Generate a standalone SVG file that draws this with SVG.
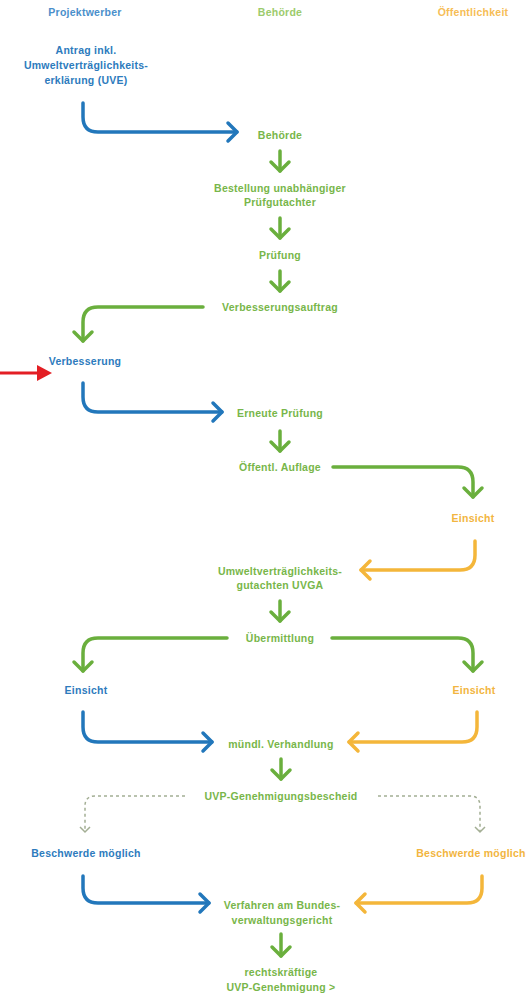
<svg xmlns="http://www.w3.org/2000/svg" width="529" height="993" viewBox="0 0 529 993">
<style>
text{font-family:"Liberation Sans",Arial,sans-serif;font-size:10.5px;font-weight:bold;letter-spacing:0.25px;text-anchor:middle}
.b{fill:#2d7bbd}.g{fill:#78b64a}.o{fill:#f2b540}
.hb{fill:#4a8fcb}.hg{fill:#9ccb6c}.ho{fill:#f6bd55}
.cb,.cg,.co{fill:none;stroke-width:3.5;stroke-linecap:round;stroke-linejoin:round}
.cb{stroke:#2277bb;marker-end:url(#mb)}
.cg{stroke:#6aaf3d;marker-end:url(#mg)}
.co{stroke:#f4b63a;marker-end:url(#mo)}
.cd{fill:none;stroke:#a3ae94;stroke-width:1.5;stroke-dasharray:3 3;marker-end:url(#md)}
</style>
<defs>
<marker id="mb" markerUnits="userSpaceOnUse" markerWidth="24" markerHeight="24" refX="11" refY="11" orient="auto" overflow="visible"><path d="M2,2 L11,11 L2,20" fill="none" stroke="#2277bb" stroke-width="3.5" stroke-linecap="round" stroke-linejoin="round"/></marker>
<marker id="mg" markerUnits="userSpaceOnUse" markerWidth="24" markerHeight="24" refX="11" refY="11" orient="auto" overflow="visible"><path d="M2,2 L11,11 L2,20" fill="none" stroke="#6aaf3d" stroke-width="3.5" stroke-linecap="round" stroke-linejoin="round"/></marker>
<marker id="mo" markerUnits="userSpaceOnUse" markerWidth="24" markerHeight="24" refX="11" refY="11" orient="auto" overflow="visible"><path d="M2,2 L11,11 L2,20" fill="none" stroke="#f4b63a" stroke-width="3.5" stroke-linecap="round" stroke-linejoin="round"/></marker>
<marker id="md" markerUnits="userSpaceOnUse" markerWidth="12" markerHeight="12" refX="6" refY="6" orient="auto" overflow="visible"><path d="M1,1 L6,6 L1,11" fill="none" stroke="#a3ae94" stroke-width="1.5"/></marker>
</defs>

<g id="headers">
<text class="hb" x="85" y="16">Projektwerber</text>
<text class="hg" x="280" y="16">Behörde</text>
<text class="ho" x="473" y="16">Öffentlichkeit</text>
</g>

<g id="n-antrag"><text class="b" x="86" y="54">Antrag inkl.</text><text class="b" x="86" y="69">Umweltverträglichkeits-</text><text class="b" x="86" y="84">erklärung (UVE)</text></g>
<g id="n-behoerde"><text class="g" x="280" y="139">Behörde</text></g>
<g id="n-bestellung"><text class="g" x="280" y="192">Bestellung unabhängiger</text><text class="g" x="280" y="206">Prüfgutachter</text></g>
<g id="n-pruefung"><text class="g" x="280" y="259">Prüfung</text></g>
<g id="n-verbauftrag"><text class="g" x="280" y="311">Verbesserungsauftrag</text></g>
<g id="n-verbesserung"><text class="b" x="85" y="365">Verbesserung</text></g>
<g id="n-erneut"><text class="g" x="280" y="417">Erneute Prüfung</text></g>
<g id="n-auflage"><text class="g" x="280" y="471">Öffentl. Auflage</text></g>
<g id="n-einsicht1"><text class="o" x="473" y="522">Einsicht</text></g>
<g id="n-uvga"><text class="g" x="280" y="575">Umweltverträglichkeits-</text><text class="g" x="280" y="589">gutachten UVGA</text></g>
<g id="n-uebermittlung"><text class="g" x="280" y="642">Übermittlung</text></g>
<g id="n-einsicht-pw"><text class="b" x="86" y="694">Einsicht</text></g>
<g id="n-einsicht-oe"><text class="o" x="474" y="694">Einsicht</text></g>
<g id="n-verhandlung"><text class="g" x="281" y="748">mündl. Verhandlung</text></g>
<g id="n-bescheid"><text class="g" x="281" y="800">UVP-Genehmigungsbescheid</text></g>
<g id="n-beschwerde-pw"><text class="b" x="86" y="857">Beschwerde möglich</text></g>
<g id="n-beschwerde-oe"><text class="o" x="471" y="857">Beschwerde möglich</text></g>
<g id="n-bvwg"><text class="g" x="282" y="909">Verfahren am Bundes-</text><text class="g" x="282" y="924">verwaltungsgericht</text></g>
<g id="n-final"><text class="g" x="281" y="976">rechtskräftige</text><text class="g" x="281" y="991">UVP-Genehmigung &gt;</text></g>

<g id="connectors">
<path class="cb" d="M83,103 V117 Q83,132 98,132 H237"/>
<path class="cg" d="M280,151 V171"/>
<path class="cg" d="M280,218 V238"/>
<path class="cg" d="M280,271 V291"/>
<path class="cg" d="M203,307 H98 Q83,307 83,322 V341"/>
<path class="cb" d="M83,383 V397 Q83,412 98,412 H222"/>
<path class="cg" d="M280,431 V451"/>
<path class="cg" d="M333,467 H458 Q473,467 473,482 V497"/>
<path class="co" d="M475,541 V555 Q475,570 460,570 H361"/>
<path class="cg" d="M280,601 V621"/>
<path class="cg" d="M227,638 H98 Q83,638 83,653 V671"/>
<path class="cg" d="M332,638 H458 Q473,638 473,653 V671"/>
<path class="cb" d="M83,712 V727 Q83,742 98,742 H212"/>
<path class="co" d="M477,712 V727 Q477,742 462,742 H349"/>
<path class="cg" d="M281,759 V779"/>
<path class="cd" d="M185,796 H95 Q85,796 85,806 V832"/>
<path class="cd" d="M378,796 H470 Q480,796 480,806 V832"/>
<path class="cb" d="M83,876 V888 Q83,903 98,903 H209"/>
<path class="co" d="M482,876 V888 Q482,903 467,903 H356"/>
<path class="cg" d="M281,934 V956"/>
<g id="red-pointer"><line x1="0" y1="373" x2="39" y2="373" stroke="#e31e24" stroke-width="3"/><polygon points="37,365 52,373 37,381" fill="#e31e24"/></g>
</g>
</svg>
